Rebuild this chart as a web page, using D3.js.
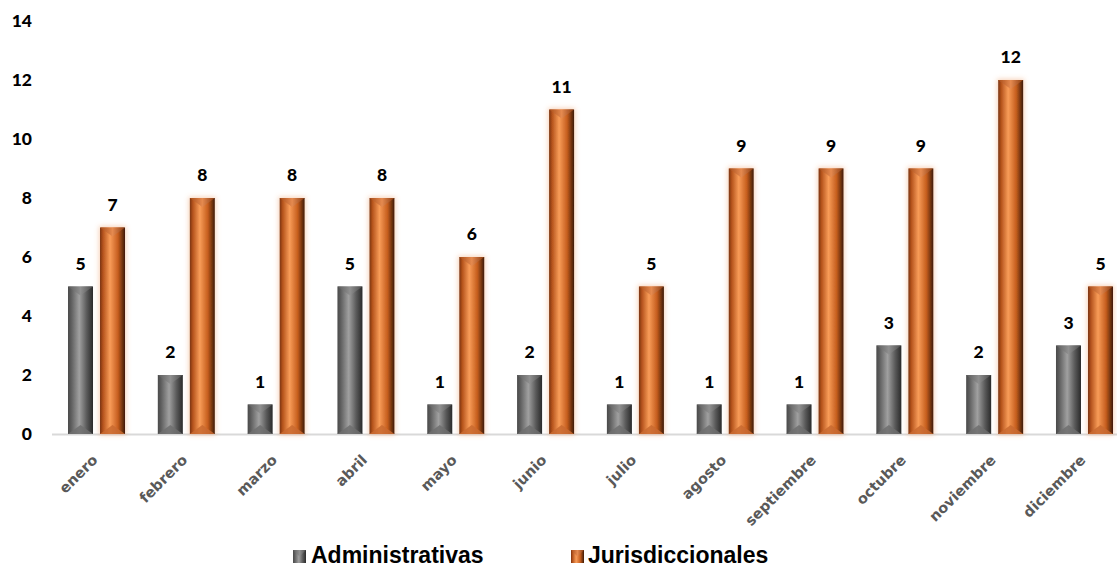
<!DOCTYPE html>
<html><head><meta charset="utf-8">
<script src="https://cdn.jsdelivr.net/npm/d3@7"></script>
<style>body{margin:0;background:#fff}svg{display:block}</style>
</head><body>
<svg id="c" width="1117" height="567"></svg>
<script>
const categories = ["enero","febrero","marzo","abril","mayo","junio","julio","agosto","septiembre","octubre","noviembre","diciembre"];
const seriesNames = ["Administrativas","Jurisdiccionales"];
const administrativas = [5,2,1,5,1,2,1,1,1,3,2,3];
const jurisdiccionales = [7,8,8,8,6,11,5,9,9,9,12,5];
const yTicks = [0,2,4,6,8,10,12,14];

const svg = d3.select("#c");
const defs = svg.append("defs");

function hGrad(id, stops){
  const g = defs.append("linearGradient").attr("id",id).attr("x1","0").attr("x2","1").attr("y1","0").attr("y2","0");
  stops.forEach(s=>g.append("stop").attr("offset",s[0]).attr("stop-color",s[1]));
}
hGrad("gGray",[[0,"#4a4a4a"],[0.12,"#5c5c5c"],[0.45,"#a0a0a0"],[0.75,"#5a5a5a"],[1,"#2a2a2a"]]);
hGrad("gOrange",[[0,"#7a3410"],[0.12,"#b5531c"],[0.4,"#f89c58"],[0.72,"#c65e1e"],[1,"#3e1a06"]]);
hGrad("gGrayTop",[[0,"#5a5a5a"],[0.5,"#909090"],[1,"#4a4a4a"]]);
hGrad("gOrangeTop",[[0,"#a84c18"],[0.5,"#e58a50"],[1,"#8a3a10"]]);

const glow = defs.append("filter").attr("id","glow").attr("x","-50%").attr("y","-10%").attr("width","200%").attr("height","120%");
glow.append("feMorphology").attr("in","SourceAlpha").attr("operator","dilate").attr("radius","1").attr("result","d");
glow.append("feGaussianBlur").attr("in","d").attr("stdDeviation","2.5").attr("result","b");
glow.append("feFlood").attr("flood-color","#ee9a62").attr("flood-opacity","0.45").attr("result","f");
glow.append("feComposite").attr("in","f").attr("in2","b").attr("operator","in").attr("result","s");
const m = glow.append("feMerge");
m.append("feMergeNode").attr("in","s");
m.append("feMergeNode").attr("in","SourceGraphic");

const x = d3.scaleBand().domain(categories).range([51.6,1129.4]).paddingInner(0.365).paddingOuter(0.1825);
const x1 = d3.scaleBand().domain(seriesNames).range([0,x.bandwidth()]).paddingInner(0.21875);
const y = d3.scaleLinear().domain([0,14]).range([434,21]);

// y labels
svg.append("g").selectAll("text").data(yTicks).join("text")
  .attr("x",32).attr("y",d=>y(d)).attr("dy","0.36em").attr("text-anchor","end")
  .attr("font-family","Lato, 'Open Sans', sans-serif").attr("font-weight","900").attr("font-size",17.5)
  .attr("fill","#000").text(d=>d);

// baseline
svg.append("line").attr("x1",52).attr("x2",1117).attr("y1",y(0)+0.5).attr("y2",y(0)+0.5)
  .attr("stroke","#d9d9d9").attr("stroke-width",2);

const series = [
  {name:seriesNames[0], values:administrativas, fill:"url(#gGray)", top:"url(#gGrayTop)", bot:"#6e6e6e", filter:null},
  {name:seriesNames[1], values:jurisdiccionales, fill:"url(#gOrange)", top:"url(#gOrangeTop)", bot:"#c96a30", filter:"url(#glow)"}
];

series.forEach(s=>{
  const g = svg.append("g");
  categories.forEach((c,i)=>{
    const v = s.values[i];
    const x0 = x(c)+x1(s.name), w = x1.bandwidth(), x2 = x0+w, xc = x0+w/2;
    const top = y(v), bot = y(0);
    const bg = g.append("g").attr("filter",s.filter);
    bg.append("rect").attr("x",x0).attr("y",top).attr("width",w).attr("height",bot-top).attr("fill",s.fill);
    const bh = Math.min(9,(bot-top)/2);
    bg.append("path").attr("d",`M${x0},${top}L${x2},${top}L${xc},${top+bh}Z`).attr("fill",s.top);
    bg.append("path").attr("d",`M${x0},${bot}L${x2},${bot}L${xc},${bot-bh}Z`).attr("fill",s.bot).attr("opacity",0.85);
    svg.append("text").attr("x",xc).attr("y",top-17).attr("text-anchor","middle")
      .attr("font-family","Lato, 'Open Sans', sans-serif").attr("font-weight","900").attr("font-size",17.5)
      .attr("fill","#000").text(v);
  });
});

// category labels
svg.append("g").selectAll("text").data(categories).join("text")
  .attr("transform",d=>`translate(${x(d)+x.bandwidth()/2+2},461) rotate(-45)`)
  .attr("text-anchor","end")
  .attr("font-family","'DejaVu Sans', Verdana, sans-serif").attr("font-weight","bold").attr("font-size",14.5)
  .attr("fill","#595959").text(d=>d);

// legend
const leg = [
  {name:seriesNames[0], mx:293, tx:311, fill:"url(#gGray)", top:"url(#gGrayTop)"},
  {name:seriesNames[1], mx:571, tx:588, fill:"url(#gOrange)", top:"url(#gOrangeTop)"}
];
leg.forEach(l=>{
  const s=13, my=550;
  svg.append("rect").attr("x",l.mx).attr("y",my).attr("width",s).attr("height",s).attr("fill",l.fill);
  svg.append("path").attr("d",`M${l.mx},${my}L${l.mx+s},${my}L${l.mx+s/2},${my+s/2}Z`).attr("fill",l.top);
  svg.append("text").attr("x",l.tx).attr("y",563)
    .attr("font-family","'Liberation Sans', Arial, sans-serif").attr("font-weight","bold").attr("font-size",23)
    .attr("fill","#000").text(l.name);
});
</script>
</body></html>
